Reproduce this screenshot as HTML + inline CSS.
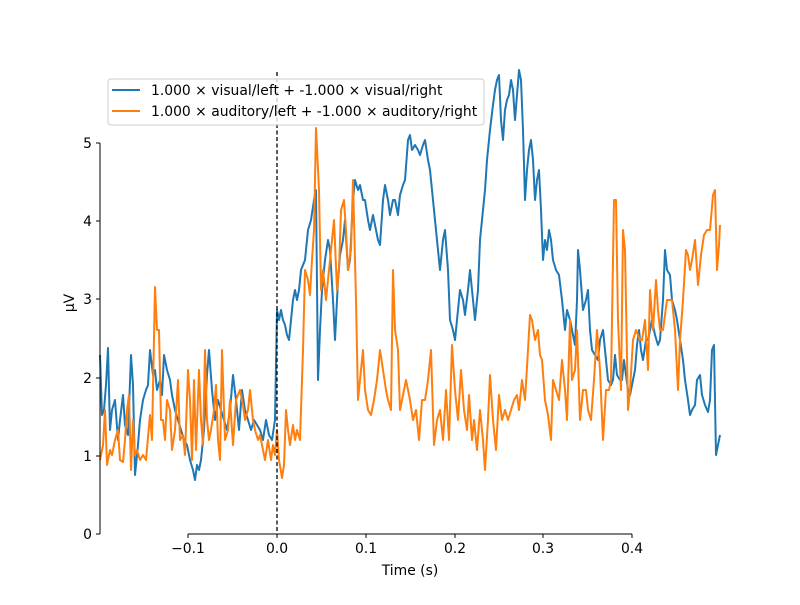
<!DOCTYPE html>
<html><head><style>body{margin:0;background:#fff}svg{font-family:"DejaVu Sans","Liberation Sans",sans-serif}</style></head><body>
<svg width="800" height="600" viewBox="0 0 800 600">
<rect width="800" height="600" fill="#fff"/>
<polyline fill="none" stroke="#1f77b4" stroke-width="2" stroke-linejoin="round" points="100,355 102,415 104,410 106,385 108,348 110,430 112,410 115,400 118,440 120,420 123,395 125,425 128,435 131,355 133,385 135,475 138,445 140,420 143,400 146,390 148,385 150,350 153,375 155,370 157,390 160,380 162,395 164,355 167,370 170,380 172,395 175,410 178,420 181,430 184,440 187,445 190,460 193,470 195,480 197,465 199,470 201,460 204,430 207,375 209,350 212,390 215,420 218,400 221,410 224,420 227,430 230,410 233,375 236,400 239,430 242,390 245,410 248,420 251,430 254,420 257,425 260,430 263,440 266,420 269,435 272,440 275,420 277,310 279,320 281,310 283,320 285,325 287,335 289,340 291,320 293,300 295,290 297,300 299,290 301,270 303,265 305,260 308,230 311,220 314,200 316,190 318,380 320,330 322,290 325,260 328,240 330,250 333,300 335,340 338,280 340,255 343,240 345,220 348,270 350,260 353,200 355,180 358,190 360,185 363,200 365,200 368,220 370,230 373,215 375,225 378,240 380,245 383,200 385,185 388,200 390,215 393,200 395,200 398,215 400,195 403,185 405,180 408,140 410,135 412,150 415,145 418,150 420,155 423,145 425,140 428,160 430,170 433,200 435,220 438,250 440,270 443,240 445,230 448,270 450,320 453,330 455,340 458,310 460,290 463,300 465,315 468,290 470,270 473,300 475,320 478,290 480,240 483,210 485,190 487,160 490,130 493,105 495,90 497,80 499,75 501,120 503,140 505,110 507,100 509,95 511,80 513,90 515,120 517,95 519,70 521,80 523,130 525,200 527,170 529,150 531,140 533,160 535,200 537,180 539,170 541,210 543,260 545,240 547,250 549,230 551,240 553,260 556,270 559,275 562,300 565,330 567,310 570,320 573,335 575,345 577,300 578,250 580,270 583,310 586,300 588,290 590,330 592,350 595,355 598,360 600,340 603,330 606,360 608,380 611,385 613,380 615,355 617,375 620,380 622,380 624,360 626,375 628,390 630,395 633,380 635,370 637,345 639,330 641,350 643,360 646,340 648,340 650,330 652,320 655,335 658,345 660,340 663,300 665,250 667,270 670,275 672,300 675,310 677,320 680,340 683,360 685,380 688,400 690,415 692,410 695,405 697,380 700,375 702,395 705,405 708,412 710,400 712,350 714,345 716,455 718,445 720,435"/>
<polyline fill="none" stroke="#ff7f0e" stroke-width="2" stroke-linejoin="round" points="100,460 103,445 105,410 107,465 110,450 112,455 115,440 118,430 120,460 123,462 125,440 127,410 129,395 131,470 133,420 135,455 137,450 140,460 143,455 146,460 150,415 152,440 155,287 157,330 159,330 161,420 163,420 165,440 167,400 170,410 172,450 175,430 178,380 180,440 183,435 185,455 188,370 190,400 192,460 194,380 196,450 199,370 201,420 203,445 205,350 207,420 209,440 211,430 214,410 216,385 218,440 220,460 222,350 225,440 228,430 230,400 233,445 236,400 240,390 243,405 245,420 248,410 250,390 253,420 255,430 258,440 260,435 263,450 265,460 268,440 271,460 273,445 275,455 277,430 279,460 282,478 284,465 286,410 288,430 290,445 293,425 295,440 297,430 300,440 303,350 305,270 308,280 310,295 312,260 314,230 316,128 319,190 321,290 323,270 326,300 328,280 331,250 334,220 337,290 339,270 341,210 344,200 346,230 348,270 351,250 353,180 356,300 358,400 360,380 363,350 365,390 368,410 371,415 374,400 377,380 380,350 383,370 386,390 388,400 391,410 393,270 395,330 398,350 400,410 403,395 406,380 410,400 413,420 416,410 419,440 422,400 425,400 428,380 431,350 434,445 437,420 440,410 443,440 446,390 449,440 452,345 455,390 458,420 461,370 464,410 467,430 469,395 472,440 474,420 477,450 480,410 483,440 485,470 488,420 490,375 493,420 496,450 499,395 502,420 505,410 508,420 511,410 514,400 517,395 519,410 522,380 525,400 528,350 530,315 532,320 535,340 538,330 540,355 542,360 545,400 548,415 551,440 553,380 556,390 559,400 562,360 565,390 567,420 570,320 572,380 575,370 577,330 580,420 583,390 586,390 588,410 591,420 594,380 597,330 600,370 603,440 606,390 609,390 611,380 614,200 616,200 618,320 621,390 623,230 625,250 628,410 630,390 633,340 636,330 640,340 642,340 645,320 648,370 650,290 653,330 656,280 658,310 660,330 663,330 667,300 670,300 672,300 675,330 678,390 680,340 683,300 686,250 688,255 690,270 692,260 695,240 698,285 701,255 704,235 707,230 710,230 713,195 715,190 717,270 719,245 720,225"/>
<line x1="277" y1="72" x2="277" y2="534" stroke="#000" stroke-width="1.3" stroke-dasharray="4,2.5"/>
<line x1="100" y1="143" x2="100" y2="534" stroke="#000" stroke-width="1"/>
<line x1="188" y1="534" x2="632" y2="534" stroke="#000" stroke-width="1"/>
<g stroke="#000">
<line x1="96" y1="534" x2="100" y2="534"/><line x1="96" y1="456" x2="100" y2="456"/><line x1="96" y1="378" x2="100" y2="378"/><line x1="96" y1="299" x2="100" y2="299"/><line x1="96" y1="221" x2="100" y2="221"/><line x1="96" y1="143" x2="100" y2="143"/>
<line x1="188" y1="534" x2="188" y2="538"/><line x1="277" y1="534" x2="277" y2="538"/><line x1="366" y1="534" x2="366" y2="538"/><line x1="455" y1="534" x2="455" y2="538"/><line x1="543" y1="534" x2="543" y2="538"/><line x1="632" y1="534" x2="632" y2="538"/>
</g>
<g font-size="13.9" text-anchor="end" fill="#000">
<text x="92" y="539">0</text><text x="92" y="461">1</text><text x="92" y="383">2</text><text x="92" y="304">3</text><text x="92" y="226">4</text><text x="92" y="148">5</text>
</g>
<g font-size="13.9" text-anchor="middle" fill="#000">
<text x="188" y="553">−0.1</text><text x="277" y="553">0.0</text><text x="366" y="553">0.1</text><text x="455" y="553">0.2</text><text x="543" y="553">0.3</text><text x="632" y="553">0.4</text>
<text x="410" y="575">Time (s)</text>
<text transform="translate(74,303) rotate(-90)">µV</text>
</g>
<rect x="108" y="79" width="376" height="46" rx="3" fill="#fff" fill-opacity="0.8" stroke="#ccc"/>
<line x1="112" y1="90" x2="140" y2="90" stroke="#1f77b4" stroke-width="2"/>
<line x1="112" y1="111" x2="140" y2="111" stroke="#ff7f0e" stroke-width="2"/>
<g font-size="13.9" fill="#000">
<text x="151" y="95">1.000 × visual/left + -1.000 × visual/right</text>
<text x="151" y="116">1.000 × auditory/left + -1.000 × auditory/right</text>
</g>
</svg>
</body></html>
